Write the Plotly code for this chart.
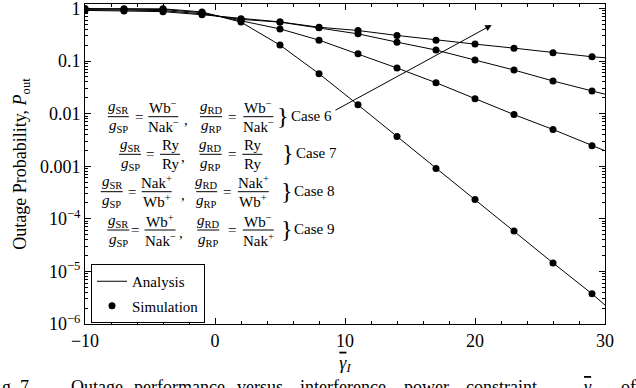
import plotly.graph_objects as go

# ---------------- data ----------------
x_sim = [-10, -7, -4, -1, 2, 5, 8, 11, 14, 17, 20, 23, 26, 29]
x_end = 30  # analysis curves run to the right edge

# flattest curve
curve1_sim = [0.92, 0.90, 0.87, 0.76, 0.64, 0.555, 0.44, 0.381, 0.307, 0.250, 0.210, 0.176, 0.1436, 0.1206]
curve1_end = 0.1155
# second curve
curve2_sim = [0.95, 0.93, 0.91, 0.79, 0.62, 0.55, 0.43, 0.329, 0.229, 0.162, 0.1044, 0.0675, 0.0418, 0.0270]
curve2_end = 0.0234
# third curve
curve3_sim = [0.98, 0.97, 0.955, 0.83, 0.59, 0.409, 0.250, 0.1375, 0.0737, 0.0388, 0.0193, 0.0096, 0.0050, 0.00245]
curve3_end = 0.00197
# steepest curve
curve4_sim = [0.995, 0.99, 0.985, 0.86, 0.55, 0.201, 0.0575, 0.0147, 0.00368, 9.1e-4, 2.33e-4, 5.85e-5, 1.45e-5, 3.75e-6]
curve4_end = 2.29e-6

curves = [(curve1_sim, curve1_end), (curve2_sim, curve2_end),
          (curve3_sim, curve3_end), (curve4_sim, curve4_end)]

x_ticks = [-10, 0, 10, 20, 30]
x_ticktext = ["\u221210", "0", "10", "20", "30"]
y_ticks = [1e-6, 1e-5, 1e-4, 1e-3, 1e-2, 1e-1, 1]
y_ticktext = ["10<sup>\u22126</sup>", "10<sup>\u22125</sup>", "10<sup>\u22124</sup>",
              "0.001", "0.01", "0.1", "1"]

GAMMA_I = "<span style='text-decoration:overline'><i>\u03b3</i></span><sub><i>I</i></sub>"

case_labels = ["Case 6", "Case 7", "Case 8", "Case 9"]
row_fracs = [
    [("<i>g</i><sub>SR</sub>", "<i>g</i><sub>SP</sub>"), ("Wb<sup>\u2212</sup>", "Nak<sup>\u2212</sup>"),
     ("<i>g</i><sub>RD</sub>", "<i>g</i><sub>RP</sub>"), ("Wb<sup>\u2212</sup>", "Nak<sup>\u2212</sup>")],
    [("<i>g</i><sub>SR</sub>", "<i>g</i><sub>SP</sub>"), ("Ry", "Ry"),
     ("<i>g</i><sub>RD</sub>", "<i>g</i><sub>RP</sub>"), ("Ry", "Ry")],
    [("<i>g</i><sub>SR</sub>", "<i>g</i><sub>SP</sub>"), ("Nak<sup>+</sup>", "Wb<sup>+</sup>"),
     ("<i>g</i><sub>RD</sub>", "<i>g</i><sub>RP</sub>"), ("Nak<sup>+</sup>", "Wb<sup>+</sup>")],
    [("<i>g</i><sub>SR</sub>", "<i>g</i><sub>SP</sub>"), ("Wb<sup>+</sup>", "Nak<sup>\u2212</sup>"),
     ("<i>g</i><sub>RD</sub>", "<i>g</i><sub>RP</sub>"), ("Wb<sup>\u2212</sup>", "Nak<sup>+</sup>")],
]

caption_words = ["g. 7.", "Outage", "performance", "versus", "interference", "power",
                 "constraint", GAMMA_I, "of"]

# ---------------- layout helpers (pixel -> paper) ----------------
W, H = 636, 388
ML, MR, MT, MB = 85, 31, 4, 64
PW, PH = W - ML - MR, H - MT - MB


def px(x):
    return (x - ML) / PW


def py(y):
    return (H - MB - y) / PH


FONT = "Liberation Serif"
BLACK = "#000000"

fig = go.Figure()

for i, (sim, end) in enumerate(curves):
    fig.add_trace(go.Scatter(
        x=x_sim + [x_end], y=sim + [end], mode="lines",
        line=dict(color=BLACK, width=1), name="Analysis",
        legendgroup="ana", showlegend=(i == 0)))
for i, (sim, end) in enumerate(curves):
    fig.add_trace(go.Scatter(
        x=x_sim, y=sim, mode="markers",
        marker=dict(color=BLACK, size=7), name="Simulation",
        legendgroup="sim", showlegend=(i == 0)))

annotations = []
shapes = []


def txt(text, x, y, size=15, xanchor="center", yanchor="middle"):
    annotations.append(dict(text=text, x=px(x), y=py(y), xref="paper", yref="paper",
                            showarrow=False, xanchor=xanchor, yanchor=yanchor,
                            font=dict(family=FONT, size=size, color=BLACK)))


def frac(num, den, cx, by, w):
    txt(num, cx, by - 9.5)
    txt(den, cx, by + 9.5)
    shapes.append(dict(type="line", xref="paper", yref="paper",
                       x0=px(cx - w / 2), x1=px(cx + w / 2), y0=py(by), y1=py(by),
                       line=dict(color=BLACK, width=1)))


# per-row geometry: bar y, fraction centres/widths, '=' and ',' x, brace x, label x
rows_geom = [
    dict(by=116.7, f=[(118.3, 21), (163.3, 30), (211, 22), (258.3, 30)], eq=[139.3, 231.7], cm=185.5, br=283.3, lab=289.3),
    dict(by=154.3, f=[(130, 22), (170, 20), (210.7, 22), (252.3, 20)], eq=[150, 231.7], cm=183.3, br=288.3, lab=294),
    dict(by=191.7, f=[(111.7, 22), (156.7, 30), (206.7, 21), (253.3, 31)], eq=[131.7, 226.7], cm=182.5, br=286.7, lab=291.7),
    dict(by=230.0, f=[(118.3, 22), (160, 31), (208.3, 22), (258.3, 31)], eq=[135, 231.7], cm=180.5, br=286.7, lab=291.7),
]

for fr, g, lab in zip(row_fracs, rows_geom, case_labels):
    for (num, den), (cx, w) in zip(fr, g["f"]):
        frac(num, den, cx, g["by"], w)
    for ex in g["eq"]:
        txt("=", ex, g["by"])
    txt(",", g["cm"], g["by"] + 3)
    txt("}", g["br"], g["by"] - 1, size=24)
    txt(lab, g["lab"], g["by"] - 1, size=15, xanchor="left")

# arrow
annotations.append(dict(x=px(491.7), y=py(25), xref="paper", yref="paper",
                        ax=334 - 491.7, ay=111 - 25, axref="pixel", ayref="pixel",
                        showarrow=True, arrowhead=2, arrowsize=1.3, arrowwidth=1,
                        arrowcolor=BLACK, text=""))

# caption (cut off at the bottom of the picture, as in the reference)
caption_x = [0, 69, 132, 235, 298, 402, 464, 582, 619]
for word, cx in zip(caption_words, caption_x):
    annotations.append(dict(text=word, x=px(cx), y=py(375), xref="paper", yref="paper",
                            showarrow=False, xanchor="left", yanchor="top",
                            font=dict(family=FONT, size=18, color=BLACK)))

axis_common = dict(showline=True, linecolor=BLACK, linewidth=1, mirror="allticks",
                   ticks="inside", tickcolor=BLACK, ticklen=6, showgrid=False, zeroline=False,
                   ticklabeloverflow="allow", automargin=False,
                   tickfont=dict(family=FONT, size=18, color=BLACK))

minor_y = [k * 10.0 ** e for e in range(-6, 0) for k in range(2, 10)]

fig.update_layout(
    width=W, height=H, autosize=False,
    margin=dict(l=ML, r=MR, t=MT, b=MB, pad=0, autoexpand=False),
    paper_bgcolor="white", plot_bgcolor="white",
    font=dict(family=FONT, size=15, color=BLACK),
    xaxis=dict(range=[-10, 30], tickvals=x_ticks, ticktext=x_ticktext,
               minor=dict(ticks="inside", ticklen=3, tickcolor=BLACK, dtick=2, tick0=0),
               title=dict(text=GAMMA_I,
                          font=dict(family=FONT, size=18, color=BLACK), standoff=6),
               **axis_common),
    yaxis=dict(type="log", range=[-6, 0.085], tickvals=y_ticks, ticktext=y_ticktext,
               minor=dict(ticks="inside", ticklen=3, tickcolor=BLACK, tickmode="array", tickvals=minor_y),
               title=dict(text="Outage Probability, <i>P</i><sub>out</sub>",
                          font=dict(family=FONT, size=18, color=BLACK), standoff=8),
               **axis_common),
    legend=dict(x=px(91), y=py(264), xanchor="left", yanchor="top",
                bgcolor="white", bordercolor=BLACK, borderwidth=1,
                font=dict(family=FONT, size=15, color=BLACK),
                traceorder="grouped", tracegroupgap=2),
    annotations=annotations, shapes=shapes,
)

fig.write_html("out.html", config={"displayModeBar": False},
               post_script="document.body.style.margin='0';")
